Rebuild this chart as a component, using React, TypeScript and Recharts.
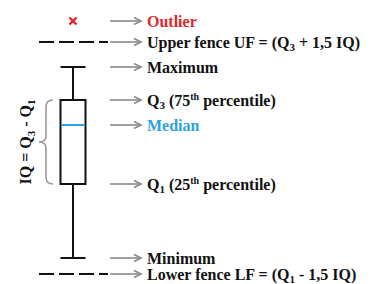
import React from "react";
import {
  ComposedChart,
  XAxis,
  YAxis,
  Scatter,
  ReferenceLine,
  ReferenceArea,
} from "recharts";

// box statistics (value units)
const statNames = ["min", "q1", "median", "q3", "max"];
const statValues = [2.6, 10.0, 15.9, 18.4, 21.7];
const outlierValues = [26.3];
const fenceNames = ["upper", "lower"];
const fenceValues = [24.2, 1.0];

// annotations, top to bottom
const annotationLabels = [
  "Outlier",
  "Upper fence UF = (Q_{3} + 1,5 IQ)",
  "Maximum",
  "Q_{3} (75^{th} percentile)",
  "Median",
  "Q_{1} (25^{th} percentile)",
  "Minimum",
  "Lower fence LF = (Q_{1} - 1,5 IQ)",
];
const annotationColors = ["#e3262b", "#111", "#111", "#111", "#2ba3dd", "#111", "#111", "#111"];
const iqLabel = "IQ = Q_{3} - Q_{1}";

const stat = (k: string) => statValues[statNames.indexOf(k)];
const fence = (k: string) => fenceValues[fenceNames.indexOf(k)];

const annotationValues = [
  outlierValues[0],
  fence("upper"),
  stat("max"),
  stat("q3"),
  stat("median"),
  stat("q1"),
  stat("min"),
  fence("lower"),
];

const W = 373;
const H = 284;
const BOX_X = 73;
const BOX_HALF = 12.5;
const FONT = '"Liberation Serif", "Times New Roman", serif';

const RichText = ({ x, y, text, fill, anchor, transform }: any) => {
  const parts = text.split(/(_\{[^}]*\}|\^\{[^}]*\})/).filter(Boolean);
  let shift = 0;
  return (
    <text
      x={x}
      y={y}
      fill={fill}
      textAnchor={anchor || "start"}
      transform={transform}
      fontFamily={FONT}
      fontWeight="bold"
      fontSize={16}
    >
      {parts.map((p: string, i: number) => {
        let target = 0;
        let content = p;
        let fs: number | undefined;
        if (p.startsWith("_{")) {
          target = 3.5;
          content = p.slice(2, -1);
          fs = 11;
        } else if (p.startsWith("^{")) {
          target = -6;
          content = p.slice(2, -1);
          fs = 10;
        }
        const dy = target - shift;
        shift = target;
        return (
          <tspan key={i} dy={dy} fontSize={fs}>
            {content}
          </tspan>
        );
      })}
    </text>
  );
};

const arrowShape = (label: string, color: string) => (props: any) => {
  const { x1, x2, y1 } = props;
  return (
    <g>
      <line x1={x1} y1={y1} x2={x2} y2={y1} stroke="#8a8a8a" strokeWidth={1.6} />
      <polyline
        points={`${x2 - 7},${y1 - 3.5} ${x2},${y1} ${x2 - 7},${y1 + 3.5}`}
        fill="none"
        stroke="#8a8a8a"
        strokeWidth={1.6}
      />
      <RichText x={x2 + 6} y={y1 + 5.5} text={label} fill={color} />
    </g>
  );
};

const braceShape = (props: any) => {
  const { x1, y1, y2 } = props;
  const top = Math.min(y1, y2);
  const bot = Math.max(y1, y2);
  const mid = (top + bot) / 2;
  const xe = x1 + 7;
  const xt = x1 - 7;
  const d = `M${xe},${top} Q${x1},${top} ${x1},${top + 7} L${x1},${mid - 6} Q${x1},${mid} ${xt},${mid} Q${x1},${mid} ${x1},${mid + 6} L${x1},${bot - 7} Q${x1},${bot} ${xe},${bot}`;
  return (
    <g>
      <path d={d} fill="none" stroke="#9a9a9a" strokeWidth={1.6} />
      <RichText
        x={31}
        y={mid}
        text={iqLabel}
        fill="#111"
        anchor="middle"
        transform={`rotate(-90, 31, ${mid})`}
      />
    </g>
  );
};

const crossShape = (props: any) => {
  const { cx, cy } = props;
  const s = 3.5;
  return (
    <g stroke="#e3262b" strokeWidth={2.4}>
      <line x1={cx - s} y1={cy - s} x2={cx + s} y2={cy + s} />
      <line x1={cx - s} y1={cy + s} x2={cx + s} y2={cy - s} />
    </g>
  );
};

export default function App() {
  const outlierData = outlierValues.map((v) => ({ x: BOX_X, y: v }));
  const left = BOX_X - BOX_HALF;
  const right = BOX_X + BOX_HALF;

  return (
    <div style={{ position: "absolute", left: 0, top: 0, background: "#fff" }}>
      <ComposedChart width={W} height={H} margin={{ top: 0, right: 0, bottom: 0, left: 0 }}>
        <XAxis type="number" dataKey="x" domain={[0, W]} hide />
        <YAxis type="number" dataKey="y" domain={[0, 28.4]} hide />

        {/* fences */}
        {fenceValues.map((v, i) => (
          <ReferenceLine
            key={"f" + i}
            segment={[{ x: 39, y: v }, { x: 108, y: v }]}
            stroke="#111"
            strokeWidth={2}
            strokeDasharray="15 5"
          />
        ))}

        {/* whiskers */}
        <ReferenceLine
          segment={[{ x: BOX_X, y: stat("q3") }, { x: BOX_X, y: stat("max") }]}
          stroke="#111"
          strokeWidth={2}
        />
        <ReferenceLine
          segment={[{ x: BOX_X, y: stat("min") }, { x: BOX_X, y: stat("q1") }]}
          stroke="#111"
          strokeWidth={2}
        />
        <ReferenceLine
          segment={[{ x: left, y: stat("max") }, { x: right, y: stat("max") }]}
          stroke="#111"
          strokeWidth={2}
        />
        <ReferenceLine
          segment={[{ x: left, y: stat("min") }, { x: right, y: stat("min") }]}
          stroke="#111"
          strokeWidth={2}
        />

        {/* box */}
        <ReferenceArea
          x1={left}
          x2={right}
          y1={stat("q1")}
          y2={stat("q3")}
          fill="#fff"
          fillOpacity={1}
          stroke="#111"
          strokeWidth={2}
        />
        <ReferenceLine
          segment={[{ x: left + 1, y: stat("median") }, { x: right - 1, y: stat("median") }]}
          stroke="#2ba3dd"
          strokeWidth={2}
        />

        {/* IQ brace */}
        <ReferenceLine
          segment={[{ x: 46, y: stat("q3") }, { x: 46, y: stat("q1") }]}
          shape={braceShape}
        />

        {/* arrows and labels */}
        {annotationValues.map((v, i) => (
          <ReferenceLine
            key={"a" + i}
            segment={[{ x: 110, y: v }, { x: 141, y: v }]}
            shape={arrowShape(annotationLabels[i], annotationColors[i])}
          />
        ))}

        <Scatter data={outlierData} shape={crossShape} isAnimationActive={false} />
      </ComposedChart>
    </div>
  );
}
